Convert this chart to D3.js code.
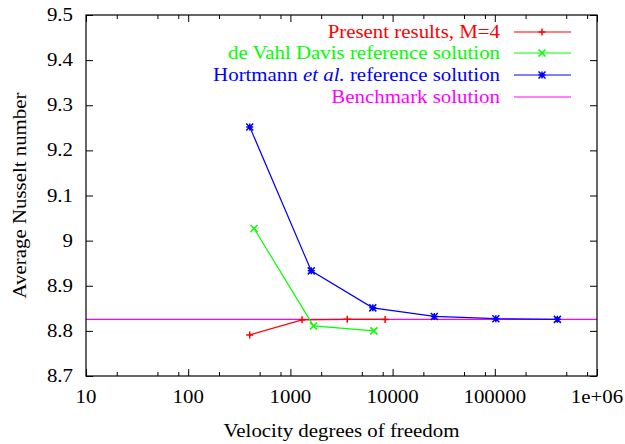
<!DOCTYPE html>
<html>
<head>
<meta charset="utf-8">
<script src="https://cdn.jsdelivr.net/npm/d3@7/dist/d3.min.js"></script>
<style>
  html, body { margin: 0; padding: 0; background: #fff; }
</style>
</head>
<body>
<svg id="chart" width="625" height="444"></svg>
<script>
// Velocity degrees of freedom and average Nusselt number for each solution
const presentDof = [400, 1300, 3600, 8450];
const presentNu  = [8.791, 8.8245, 8.8255, 8.8253];
const davisDof   = [441, 1681, 6561];
const davisNu    = [9.027, 8.811, 8.800];
const hortmannDof = [400, 1600, 6400, 25600, 102400, 409600];
const hortmannNu  = [9.252, 8.933, 8.851, 8.832, 8.827, 8.8255];
const benchmarkNu = 8.8255;

const xTicks = [10, 100, 1000, 10000, 100000, 1000000];
const xTickLabels = ["10", "100", "1000", "10000", "100000", "1e+06"];
const yTicks = [8.7, 8.8, 8.9, 9.0, 9.1, 9.2, 9.3, 9.4, 9.5];
const yTickLabels = ["8.7", "8.8", "8.9", "9", "9.1", "9.2", "9.3", "9.4", "9.5"];

const svg = d3.select("#chart");
const L = 86, R = 597, T = 15, B = 376;
const FONT = "'Liberation Serif', 'Times New Roman', Times, 'DejaVu Serif', serif";
const fontSize = 18;
const stretch = 1.16;   // wide Times-style lettering

const x = d3.scaleLog().domain([10, 1e6]).range([L, R]);
const y = d3.scaleLinear().domain([8.7, 9.5]).range([B, T]);

// place a text label at (px,py), with optional rotation
function label(parent, px, py, anchor, rot) {
  return parent.append("text")
    .attr("transform", `translate(${px},${py})` + (rot ? ` rotate(${rot})` : "") + ` scale(${stretch},1)`)
    .attr("text-anchor", anchor)
    .attr("font-size", fontSize).attr("font-family", FONT);
}

// minor ticks at 2, 5, 8 within each decade
const xMinor = [];
for (let d = 10; d < 1e6; d *= 10) [2, 5, 8].forEach(m => xMinor.push(d * m));

function styleAxis(g) {
  g.select(".domain").remove();
  g.selectAll("line").attr("stroke", "#000").attr("stroke-width", 1);
}

// bottom and top major/minor ticks (pointing inward)
svg.append("g").attr("transform", `translate(0,${B})`)
  .call(d3.axisBottom(x).tickValues(xTicks).tickSize(-7).tickFormat(""))
  .call(styleAxis);
svg.append("g").attr("transform", `translate(0,${B})`)
  .call(d3.axisBottom(x).tickValues(xMinor).tickSize(-4).tickFormat(""))
  .call(styleAxis);
svg.append("g").attr("transform", `translate(0,${T})`)
  .call(d3.axisTop(x).tickValues(xTicks).tickSize(-7).tickFormat(""))
  .call(styleAxis);
svg.append("g").attr("transform", `translate(0,${T})`)
  .call(d3.axisTop(x).tickValues(xMinor).tickSize(-4).tickFormat(""))
  .call(styleAxis);
// left and right ticks
svg.append("g").attr("transform", `translate(${L},0)`)
  .call(d3.axisLeft(y).tickValues(yTicks).tickSize(-7).tickFormat(""))
  .call(styleAxis);
svg.append("g").attr("transform", `translate(${R},0)`)
  .call(d3.axisRight(y).tickValues(yTicks).tickSize(-7).tickFormat(""))
  .call(styleAxis);

// tick labels
const xl = svg.append("g");
xTicks.forEach((d, i) => label(xl, x(d), 403, "middle").text(xTickLabels[i]));
const yl = svg.append("g");
yTicks.forEach((d, i) => label(yl, 73, y(d) + 6, "end").text(yTickLabels[i]));

// axis titles
label(svg, (L + R) / 2, 437, "middle").text("Velocity degrees of freedom");
label(svg, 26, (T + B) / 2, "middle", -90).text("Average Nusselt number");

// benchmark horizontal line
const magenta = "#ff00ff", red = "#ff0000", green = "#00ff00", blue = "#0000ff";
svg.append("line")
  .attr("x1", L).attr("x2", R).attr("y1", y(benchmarkNu)).attr("y2", y(benchmarkNu))
  .attr("stroke", magenta).attr("stroke-width", 1.2);

// marker shapes
const s = 3.5;
const markerPaths = {
  plus: `M${-s},0H${s}M0,${-s}V${s}`,
  cross: `M${-s},${-s}L${s},${s}M${-s},${s}L${s},${-s}`,
  star: `M${-s},0H${s}M0,${-s}V${s}M${-s},${-s}L${s},${s}M${-s},${s}L${s},${-s}`
};

const line = d3.line().x(d => x(d[0])).y(d => y(d[1]));
function series(dof, nu, color, marker) {
  const pts = dof.map((d, i) => [d, nu[i]]);
  const g = svg.append("g");
  g.append("path").datum(pts).attr("d", line)
    .attr("fill", "none").attr("stroke", color).attr("stroke-width", 1.2);
  g.selectAll("path.m").data(pts).join("path").attr("class", "m")
    .attr("transform", d => `translate(${x(d[0])},${y(d[1])})`)
    .attr("d", markerPaths[marker])
    .attr("stroke", color).attr("stroke-width", 1.5).attr("fill", "none");
}
series(presentDof, presentNu, red, "plus");
series(davisDof, davisNu, green, "cross");
series(hortmannDof, hortmannNu, blue, "star");

// frame
svg.append("rect").attr("x", L).attr("y", T).attr("width", R - L).attr("height", B - T)
  .attr("fill", "none").attr("stroke", "#000").attr("stroke-width", 1.2);

// legend
const legend = [
  { parts: [["Present results, M=4", "normal"]], color: red, marker: "plus", y: 32 },
  { parts: [["de Vahl Davis reference solution", "normal"]], color: green, marker: "cross", y: 53 },
  { parts: [["Hortmann ", "normal"], ["et al.", "italic"], [" reference solution", "normal"]], color: blue, marker: "star", y: 75 },
  { parts: [["Benchmark solution", "normal"]], color: magenta, marker: null, y: 97 }
];
legend.forEach(item => {
  const t = label(svg, 500, item.y + 6, "end").attr("fill", item.color);
  item.parts.forEach(p => t.append("tspan").attr("font-style", p[1]).text(p[0]));
  svg.append("line").attr("x1", 514).attr("x2", 571).attr("y1", item.y).attr("y2", item.y)
    .attr("stroke", item.color).attr("stroke-width", 1.2);
  if (item.marker) {
    svg.append("path").attr("transform", `translate(542,${item.y})`)
      .attr("d", markerPaths[item.marker])
      .attr("stroke", item.color).attr("stroke-width", 1.5).attr("fill", "none");
  }
});
</script>
</body>
</html>
